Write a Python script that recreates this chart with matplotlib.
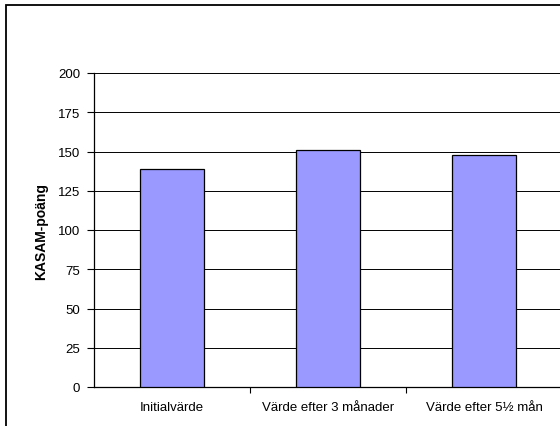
import numpy as np
import matplotlib
matplotlib.use('Agg')
import matplotlib.pyplot as plt
from matplotlib.patches import Rectangle

plt.rcParams['font.family'] = ['Liberation Sans', 'DejaVu Sans']

# data
categories = ['Initialvärde', 'Värde efter 3 månader', 'Värde efter 5½ mån']
values = [139, 151, 148]
yticks = [0, 25, 50, 75, 100, 125, 150, 175, 200]

fig = plt.figure(figsize=(5.6, 4.27), dpi=100)
# outer chart border (cut off at right and bottom like the original)
fig.patches.append(Rectangle((6/560, -0.1), 1.2, 1 - 6/427 + 0.1, transform=fig.transFigure,
                             fill=False, edgecolor='black', linewidth=1.3))

ax = fig.add_axes([94/560, 1 - 388/427, 468/560, 314/427])
x = np.arange(len(categories))
ax.bar(x, values, width=0.41, color='#9999FF', edgecolor='black', linewidth=0.9, zorder=3)

ax.set_xlim(-0.5, 2.5)
ax.set_ylim(0, 200)
ax.set_yticks(yticks)
ax.set_yticklabels([str(v) for v in yticks], fontsize=9.5)
ax.yaxis.grid(True, color='black', linewidth=0.7, zorder=0)
ax.set_axisbelow(True)

# category boundaries get the tick marks, labels sit in the middle
ax.set_xticks([0.5, 1.5, 2.5])
ax.set_xticklabels([])
ax.set_xticks(x, minor=True)
ax.set_xticklabels(categories, minor=True, fontsize=9.5)
ax.tick_params(axis='x', which='minor', length=0, pad=10)
ax.tick_params(axis='x', which='major', length=4, width=0.8, direction='out')
ax.tick_params(axis='y', length=5, width=0.8, pad=5)

for s in ['top', 'right']:
    ax.spines[s].set_visible(False)
ax.spines['left'].set_linewidth(0.9)
ax.spines['bottom'].set_linewidth(0.9)

ax.set_ylabel('KASAM-poäng', fontsize=10, fontweight='bold', labelpad=7)

plt.savefig('out.png', dpi=100)
